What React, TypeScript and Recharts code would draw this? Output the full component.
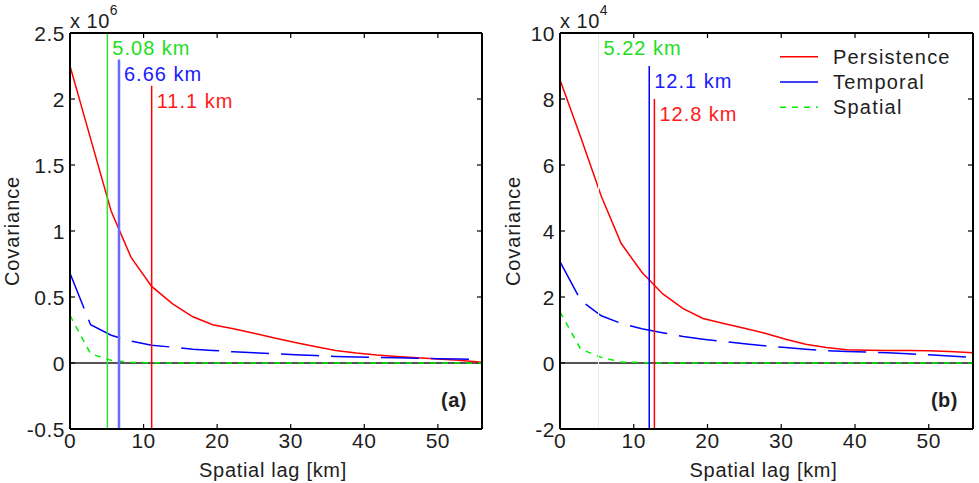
import React from "react";
import { LineChart, Line, XAxis, YAxis, ReferenceLine, Legend } from "recharts";

// spatial lag of each covariance sample (km)
const lagKm = [0, 2.8, 5.6, 8.3, 11.1, 13.9, 16.7, 19.4, 22.2, 25, 27.8, 30.6, 33.3, 36.1, 38.9, 41.7, 44.4, 47.2, 50, 52.8, 56];

// panel (a), units of 10^6
const persistenceA = [2.25, 1.7, 1.15, 0.8, 0.58, 0.45, 0.35, 0.29, 0.26, 0.225, 0.19, 0.155, 0.125, 0.095, 0.075, 0.06, 0.05, 0.04, 0.03, 0.02, 0.005];
const temporalA = [0.68, 0.29, 0.21, 0.165, 0.135, 0.12, 0.105, 0.095, 0.085, 0.078, 0.07, 0.063, 0.056, 0.05, 0.045, 0.042, 0.04, 0.036, 0.033, 0.03, 0.028];
const spatialA = [0.36, 0.07, 0.02, 0.005, 0.002, 0, 0, 0, 0, 0, 0, 0, 0, 0, 0, 0, 0, 0, 0, 0, 0];

// panel (b), units of 10^4
const persistenceB = [8.58, 6.85, 5.05, 3.62, 2.75, 2.1, 1.65, 1.35, 1.2, 1.05, 0.9, 0.72, 0.57, 0.47, 0.4, 0.39, 0.38, 0.38, 0.37, 0.35, 0.31];
const temporalB = [3.07, 1.9, 1.43, 1.2, 1.04, 0.92, 0.8, 0.72, 0.65, 0.58, 0.52, 0.47, 0.42, 0.37, 0.35, 0.33, 0.31, 0.28, 0.25, 0.21, 0.17];
const spatialB = [1.55, 0.42, 0.17, 0.03, 0.01, 0, 0, 0, 0, 0, 0, 0, 0, 0, 0, 0, 0, 0, 0, 0, 0];

// decorrelation lengths (km) and how high each marker reaches
const cutoffKmA = [5.08, 6.66, 11.1];
const cutoffTopA = [2.5, 2.3, 2.1];
const cutoffKmB = [5.22, 12.1, 12.8];
const cutoffTopB = [10, 9, 8];

const xTicks = [0, 10, 20, 30, 40, 50];
const yTicksA = [-0.5, 0, 0.5, 1, 1.5, 2, 2.5];
const yTicksB = [-2, 0, 2, 4, 6, 8, 10];

const FONT = '"Liberation Sans", Arial, Helvetica, sans-serif';
const INK = "#1e1e1e";
const X_MAX = 56;
const PLOT_W = 412;
const PLOT_H = 396;
const TICK_LEN = 5;

const series = [
  { key: "persistence", name: "Persistence", stroke: "#ff0000", dash: undefined as string | undefined },
  { key: "temporal", name: "Temporal", stroke: "#0000ff", dash: "38 12" },
  { key: "spatial", name: "Spatial", stroke: "#00ee00", dash: "6 6" },
];

// marker styles: spatial, temporal, persistence
const markerStyleA = [
  { stroke: "#33dd33", width: 1.5, text: "#22dd22" },
  { stroke: "#6a6aff", width: 2.5, text: "#1a1aff" },
  { stroke: "#ff0000", width: 1.5, text: "#ff1a1a" },
];
const markerStyleB = [
  { stroke: "#d8f5d8", width: 1, text: "#22dd22" },
  { stroke: "#0000ff", width: 1.5, text: "#1a1aff" },
  { stroke: "#ff0000", width: 1.5, text: "#ff1a1a" },
];

function buildRows(p: number[], t: number[], s: number[]) {
  return lagKm.map((lag, i) => ({ lag, persistence: p[i], temporal: t[i], spatial: s[i] }));
}

const BOTTOM_GAP = 3;
const LEFT_GAP = 5;

const bottomTick = (p: any) => (
  <text x={p.x} y={p.y} dy="0.75em" textAnchor="middle" fontSize={21} fill={INK}>
    {p.payload.value}
  </text>
);

const leftTick = (p: any) => (
  <text x={p.x} y={p.y} dominantBaseline="central" textAnchor="end" fontSize={21} fill={INK}>
    {p.payload.value}
  </text>
);

const renderLegend = () => (
  <svg width={180} height={76}>
    {series.map((s, i) => (
      <g key={s.key} transform={`translate(0, ${12.7 + i * 25.3})`}>
        <line x1={0} x2={38} y1={0} y2={0} stroke={s.stroke} strokeWidth={1.5} strokeDasharray={s.dash} />
        <text x={53} y={0} dominantBaseline="central" fontSize={20} fill={INK} style={{ letterSpacing: "1.2px" }}>
          {s.name}
        </text>
      </g>
    ))}
  </svg>
);

// inward tick marks on all four sides of the box, in data units
function boxTicks(yDomain: [number, number], yTicks: number[]) {
  const dx = (TICK_LEN * X_MAX) / PLOT_W;
  const dy = (TICK_LEN * (yDomain[1] - yDomain[0])) / PLOT_H;
  const segs: { x: number; y: number }[][] = [];
  xTicks.forEach((t) => {
    segs.push([{ x: t, y: yDomain[0] }, { x: t, y: yDomain[0] + dy }]);
    segs.push([{ x: t, y: yDomain[1] - dy }, { x: t, y: yDomain[1] }]);
  });
  yTicks.forEach((v) => {
    segs.push([{ x: 0, y: v }, { x: dx, y: v }]);
    segs.push([{ x: X_MAX - dx, y: v }, { x: X_MAX, y: v }]);
  });
  return segs;
}

type PanelProps = {
  rows: ReturnType<typeof buildRows>;
  width: number;
  marginRight: number;
  yDomain: [number, number];
  yTicks: number[];
  exponent: string;
  tag: string;
  cutoffKm: number[];
  cutoffTop: number[];
  markerStyle: typeof markerStyleA;
  yLabelX: number;
  legend?: boolean;
};

function Panel(props: PanelProps) {
  const { rows, width, marginRight, yDomain, yTicks, exponent, tag, cutoffKm, cutoffTop, markerStyle, yLabelX, legend } = props;
  const plotRight = width - marginRight - 1;
  const axisLine = { stroke: "#000", strokeWidth: 2 };
  return (
    <LineChart width={width} height={483} data={rows} margin={{ top: 32, right: marginRight, bottom: 0, left: 0 }}>
      <XAxis
        dataKey="lag"
        type="number"
        domain={[0, X_MAX]}
        ticks={xTicks}
        interval={0}
        allowDataOverflow
        height={54}
        tickSize={0}
        tickMargin={BOTTOM_GAP}
        axisLine={axisLine}
        tickLine={false}
        tick={bottomTick}
      />
      <XAxis
        xAxisId="top"
        orientation="top"
        dataKey="lag"
        type="number"
        domain={[0, X_MAX]}
        ticks={xTicks}
        height={1}
        axisLine={axisLine}
        tickLine={false}
        tick={false}
      />
      <YAxis
        type="number"
        domain={yDomain}
        ticks={yTicks}
        interval={0}
        allowDataOverflow
        width={70}
        tickSize={0}
        tickMargin={LEFT_GAP}
        axisLine={axisLine}
        tickLine={false}
        tick={leftTick}
      />
      <YAxis
        yAxisId="right"
        orientation="right"
        type="number"
        domain={yDomain}
        ticks={yTicks}
        width={1}
        axisLine={axisLine}
        tickLine={false}
        tick={false}
      />
      <ReferenceLine y={0} stroke="#555" strokeWidth={2} />
      {boxTicks(yDomain, yTicks).map((seg, i) => (
        <ReferenceLine key={`tick-${i}`} segment={seg} stroke="#000" strokeWidth={1.2} />
      ))}
      {series.map((s) => (
        <Line
          key={s.key}
          dataKey={s.key}
          name={s.name}
          type="linear"
          stroke={s.stroke}
          strokeWidth={1.5}
          strokeDasharray={s.dash}
          dot={false}
          activeDot={false}
          isAnimationActive={false}
        />
      ))}
      {cutoffKm.map((km, i) => (
        <ReferenceLine
          key={`cut-${i}`}
          segment={[
            { x: km, y: yDomain[0] },
            { x: km, y: cutoffTop[i] },
          ]}
          stroke={markerStyle[i].stroke}
          strokeWidth={markerStyle[i].width}
          label={(lp: any) => {
            const vb = lp.viewBox || {};
            return (
              <text
                x={vb.x + 5}
                y={vb.y + 15}
                dominantBaseline="central"
                fontSize={20}
                fill={markerStyle[i].text}
                style={{ letterSpacing: "1px" }}
              >
                {`${km} km`}
              </text>
            );
          }}
        />
      ))}
      <text x={70} y={28} fontSize={20} fill={INK}>
        x 10
        <tspan dy={-13} fontSize={14}>
          {exponent}
        </tspan>
      </text>
      <text
        transform={`translate(${yLabelX}, 231) rotate(-90)`}
        textAnchor="middle"
        dominantBaseline="central"
        fontSize={20}
        fill={INK}
        style={{ letterSpacing: "0.9px" }}
      >
        Covariance
      </text>
      <text
        x={(70 + plotRight) / 2 - 3}
        y={470}
        textAnchor="middle"
        dominantBaseline="central"
        fontSize={20}
        fill={INK}
        style={{ letterSpacing: "0.7px" }}
      >
        Spatial lag [km]
      </text>
      <text x={plotRight - 15} y={400} textAnchor="end" dominantBaseline="central" fontSize={20} fontWeight="bold" fill={INK}>
        {tag}
      </text>
      {legend && (
        <Legend
          layout="vertical"
          align="center"
          verticalAlign="middle"
          content={renderLegend}
          wrapperStyle={{ left: 290, top: 44, width: 180, height: 76 }}
        />
      )}
    </LineChart>
  );
}

export default function App() {
  const rowsA = buildRows(persistenceA, temporalA, spatialA);
  const rowsB = buildRows(persistenceB, temporalB, spatialB);
  return (
    <div
      style={{
        position: "absolute",
        left: 0,
        top: 0,
        width: 979,
        height: 483,
        background: "#fff",
        display: "flex",
        fontFamily: FONT,
        letterSpacing: "0.5px",
      }}
    >
      <Panel
        rows={rowsA}
        width={490}
        marginRight={7}
        yDomain={[-0.5, 2.5]}
        yTicks={yTicksA}
        exponent="6"
        tag="(a)"
        cutoffKm={cutoffKmA}
        cutoffTop={cutoffTopA}
        markerStyle={markerStyleA}
        yLabelX={12}
      />
      <Panel
        rows={rowsB}
        width={489}
        marginRight={5}
        yDomain={[-2, 10]}
        yTicks={yTicksB}
        exponent="4"
        tag="(b)"
        cutoffKm={cutoffKmB}
        cutoffTop={cutoffTopB}
        markerStyle={markerStyleB}
        yLabelX={23}
        legend
      />
    </div>
  );
}
